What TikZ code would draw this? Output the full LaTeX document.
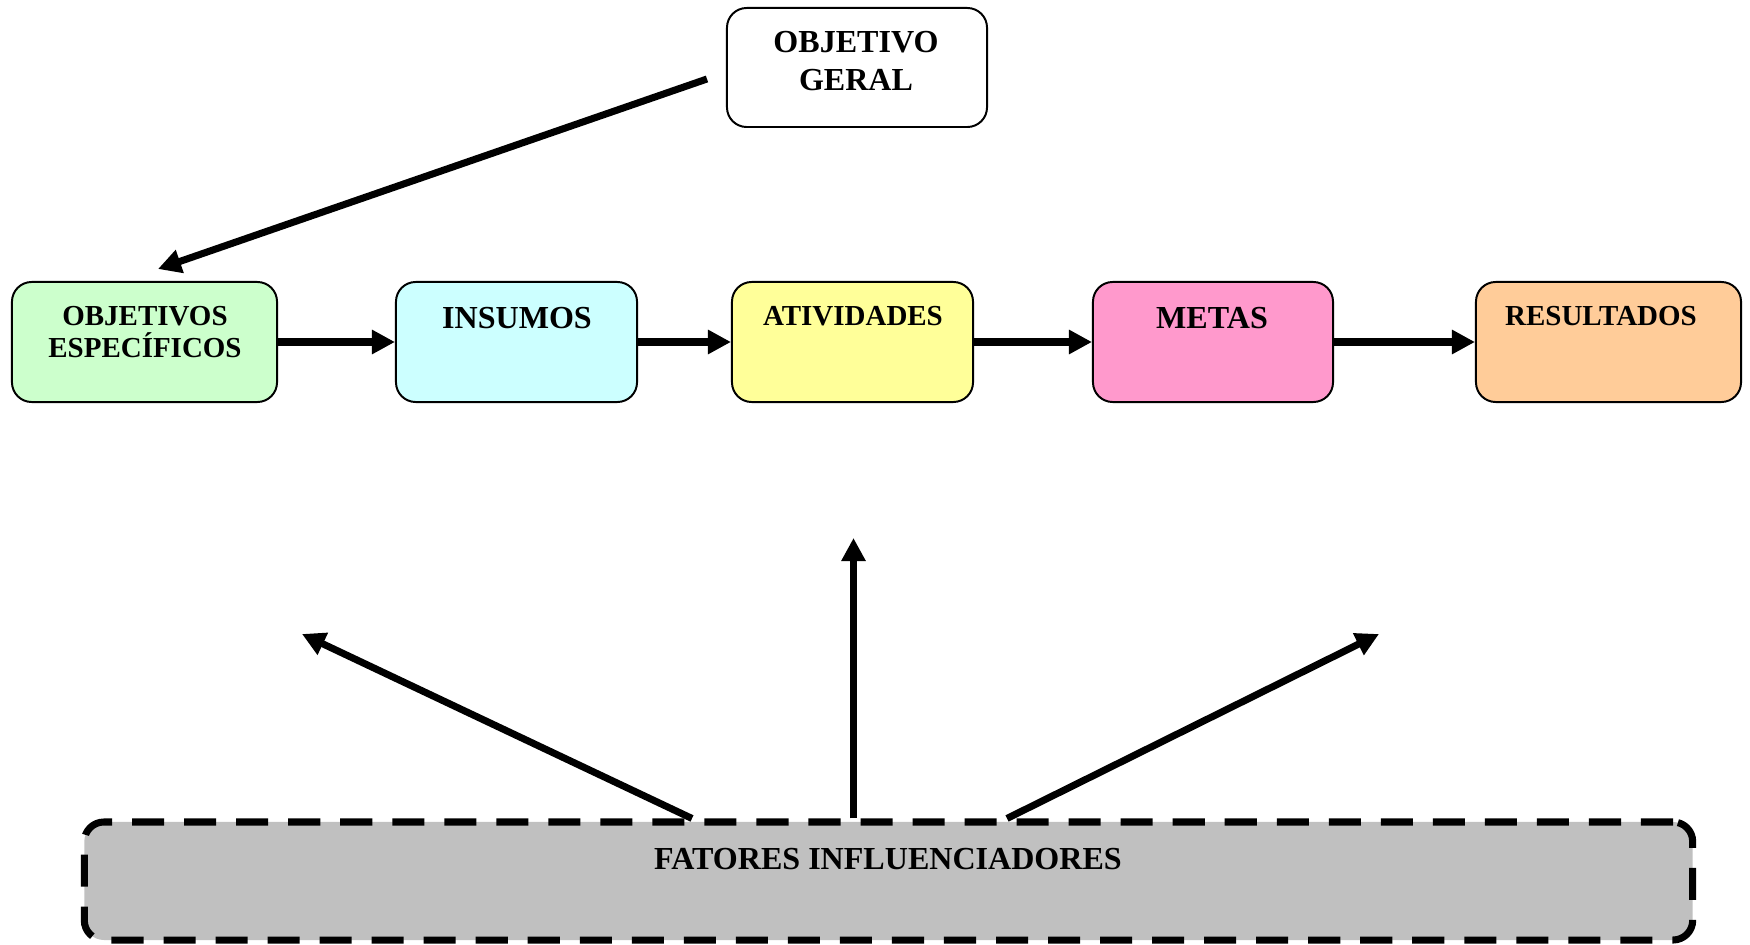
\documentclass[tikz,border=0pt]{standalone}
\usepackage{fontspec}
\setmainfont{Liberation Serif}
\usepackage{xcolor}
\usepackage{tikz}
\usetikzlibrary{arrows.meta}
\definecolor{verde}{HTML}{CCFFCC}
\definecolor{ciano}{HTML}{CCFFFF}
\definecolor{amarelo}{HTML}{FFFF99}
\definecolor{rosa}{HTML}{FF99CC}
\definecolor{laranja}{HTML}{FFCC99}
\definecolor{cinza}{HTML}{C0C0C0}
\tikzstyle{caixa} = [draw,line width=1.4pt,rounded corners=14pt,minimum height=3cm,inner sep=0pt]
\tikzstyle{rotulo} = [font=\bfseries\fontsize{22.8}{27}\selectfont,align=center,inner sep=0pt]
\tikzstyle{rotulopeq} = [font=\bfseries\fontsize{20.6}{22.8}\selectfont,align=center,inner sep=0pt]
\tikzstyle{seta} = [line width=5pt,-{Triangle[length=16.4pt,width=16.4pt]}]

\begin{document}
\begin{tikzpicture}[x=0.025cm,y=-0.025cm]
	\useasboundingbox (0,0) rectangle (1750,945);
	
	% Caixas:
	\node[caixa,fill=white,minimum width=6.5cm,minimum height=2.975cm] (objgeral) at (857,67.5) {};
	\node[caixa,fill=verde,minimum width=6.625cm] (objesp) at (144.5,342) {};
	\node[caixa,fill=ciano,minimum width=6.025cm] (insumos) at (516.5,342) {};
	\node[caixa,fill=amarelo,minimum width=6.025cm] (atividades) at (852.5,342) {};
	\node[caixa,fill=rosa,minimum width=6cm] (metas) at (1213,342) {};
	\node[caixa,fill=laranja,minimum width=6.625cm] (resultados) at (1608.5,342) {};
	\node[draw,fill=cinza,line width=5pt,dash pattern=on 22.8pt off 14.2pt,rounded corners=14pt,
		minimum width=40.2cm,minimum height=2.95cm] (fatores) at (888.5,881) {};
	
	% Textos:
	\node[rotulo,font=\bfseries\fontsize{22.8}{27}\selectfont] (tobjgeral) at (856,61) {OBJETIVO\\GERAL};
	\node[rotulopeq] (tobjesp) at (145,332) {OBJETIVOS\\ESPECÍFICOS};
	\node[rotulo] (tinsumos) at (517,318) {INSUMOS};
	\node[rotulopeq] (tatividades) at (853,316) {ATIVIDADES};
	\node[rotulo] (tmetas) at (1212,318) {METAS};
	\node[rotulopeq] (tresultados) at (1601,316) {RESULTADOS};
	\node[rotulo] (tfatores) at (888,859) {FATORES INFLUENCIADORES};
	
	% Setas:
	\draw[seta] ([shift={(-19,11.5)}]objgeral.west) -- ([shift={(13.5,-12)}]objesp.north);
	\draw[seta] (objesp.east) -- (insumos.west);
	\draw[seta] (insumos.east) -- (atividades.west);
	\draw[seta] (atividades.east) -- (metas.west);
	\draw[seta] (metas.east) -- (resultados.west);
	
	\coordinate (fimesq) at (302,634);
	\coordinate (fimcentro) at (853.5,538);
	\coordinate (fimdir) at (1379,634);
	\draw[seta] ([xshift=-196.5*0.025cm]fatores.north) -- (fimesq);
	\draw[seta] ([xshift=-35*0.025cm]fatores.north) -- (fimcentro);
	\draw[seta] ([xshift=118.5*0.025cm]fatores.north) -- (fimdir);
	
\end{tikzpicture}
\end{document}
